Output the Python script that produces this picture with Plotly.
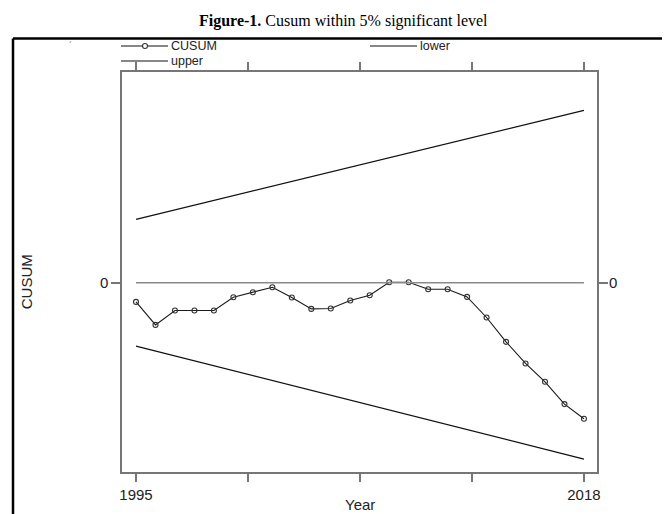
import plotly.graph_objects as go

# ---- data ----
years = list(range(1995, 2019))
cusum = [-1.92, -4.22, -2.78, -2.78, -2.78, -1.45, -0.95, -0.45, -1.48, -2.62,
         -2.58, -1.78, -1.25, 0.05, 0.05, -0.65, -0.65, -1.42, -3.48, -5.92,
         -8.08, -9.92, -12.15, -13.62]
bound_years = [1995, 2018]
upper = [6.35, 17.25]
lower = [-6.35, -17.65]
zero_years = [1995, 2018]
zero_vals = [0, 0]
x_tickvals = [1995, 2000.75, 2006.5, 2012.25, 2018]
x_ticktext = ["1995", "", "", "", "2018"]
y_tickvals = [0]
y_ticktext = ["0"]
legend_names = ["CUSUM", "lower", "upper"]

# ---- layout geometry (pixels) ----
W, H = 670, 514
L, R, T, B = 114, 589, 63.5, 464


def px(x):
    return (x - L) / (R - L)


def py(y):
    return (B - y) / (B - T)


FONT = "Liberation Sans, Arial, sans-serif"
AXC = "#767676"
YR = [-18.95, 21.1]
XR = [1994.28, 2018.67]

fig = go.Figure()
fig.add_trace(go.Scatter(x=zero_years, y=zero_vals, mode="lines", yaxis="y2",
                         line=dict(color="#8a8a8a", width=1.6),
                         showlegend=False, hoverinfo="skip"))
fig.add_trace(go.Scatter(x=years, y=cusum, mode="lines+markers",
                         name=legend_names[0], showlegend=False,
                         line=dict(color="#1a1a1a", width=1.1),
                         marker=dict(symbol="circle-open", size=5,
                                     color="#333333", line=dict(width=1.1))))
fig.add_trace(go.Scatter(x=bound_years, y=lower, mode="lines",
                         name=legend_names[1], showlegend=False,
                         line=dict(color="#111111", width=1.3)))
fig.add_trace(go.Scatter(x=bound_years, y=upper, mode="lines",
                         name=legend_names[2], showlegend=False,
                         line=dict(color="#111111", width=1.3)))

FR_T, FR_L = 30, 5
shapes = [
    dict(type="line", xref="paper", yref="paper", x0=px(FR_L), x1=px(667),
         y0=py(FR_T), y1=py(FR_T), line=dict(color="black", width=2.5)),
    dict(type="line", xref="paper", yref="paper", x0=px(FR_L), x1=px(FR_L),
         y0=py(FR_T), y1=py(520), line=dict(color="black", width=2.5)),
]

annotations = [
    dict(xref="paper", yref="paper", x=px(335), y=py(12), xanchor="center",
         yanchor="middle", showarrow=False,
         text="<b>Figure-1.</b> Cusum within 5% significant level",
         font=dict(family="Liberation Serif, Times New Roman, serif",
                   size=16, color="black")),
    dict(xref="paper", yref="paper", x=px(18), y=py(274), xanchor="center",
         yanchor="middle", showarrow=False, textangle=-90, text="CUSUM",
         font=dict(family=FONT, size=15, color="#222")),
    dict(xref="paper", yref="paper", x=px(352), y=py(497), xanchor="center",
         yanchor="middle", showarrow=False, text="Year",
         font=dict(family=FONT, size=15, color="#222")),
    dict(xref="paper", yref="paper", x=px(62), y=py(36), xanchor="center",
         yanchor="middle", showarrow=False, text="´", borderpad=0,
         font=dict(family=FONT, size=9, color="#555")),
]

# manual compact legend (Stata style)
legend_items = [(113, 37.5, True), (362, 37.5, False), (113, 52.5, False)]
for name, (lx, ly, has_marker) in zip(legend_names, legend_items):
    shapes.append(dict(type="line", xref="paper", yref="paper",
                       x0=px(lx), x1=px(lx + 47), y0=py(ly), y1=py(ly),
                       line=dict(color="#111111", width=1.1)))
    if has_marker:
        cx = lx + 24
        shapes.append(dict(type="circle", xref="paper", yref="paper",
                           x0=px(cx - 2.5), x1=px(cx + 2.5),
                           y0=py(ly + 2.5), y1=py(ly - 2.5),
                           fillcolor="white",
                           line=dict(color="#333333", width=1.1)))
    annotations.append(dict(xref="paper", yref="paper", x=px(lx + 49),
                            y=py(ly), xanchor="left", yanchor="middle",
                            showarrow=False, text=name, borderpad=0,
                            font=dict(family=FONT, size=12.5, color="#222")))

fig.update_layout(
    width=W, height=H,
    margin=dict(l=L, r=W - R, t=T, b=H - B, pad=0),
    paper_bgcolor="white", plot_bgcolor="white",
    font=dict(family=FONT, size=14, color="#222"),
    showlegend=False,
    xaxis=dict(range=XR, tickvals=x_tickvals, ticktext=x_ticktext,
               showgrid=False, zeroline=False, showline=True, linecolor=AXC,
               linewidth=1.5, mirror="allticks", ticks="outside", ticklen=8,
               tickwidth=1.5, tickcolor=AXC,
               tickfont=dict(family=FONT, size=15, color="#222")),
    yaxis=dict(range=YR, tickvals=y_tickvals, ticktext=y_ticktext,
               showgrid=False, zeroline=False, showline=True, linecolor=AXC,
               linewidth=1.5, mirror="allticks", ticks="outside", ticklen=9,
               tickwidth=1.5, tickcolor=AXC,
               tickfont=dict(family=FONT, size=15, color="#222")),
    yaxis2=dict(range=YR, overlaying="y", side="right", tickvals=y_tickvals,
                ticktext=y_ticktext, showgrid=False, zeroline=False,
                showline=False, ticks="outside", ticklen=8, tickwidth=1.5,
                tickcolor=AXC,
                tickfont=dict(family=FONT, size=15, color="#222")),
    shapes=shapes, annotations=annotations,
)

fig.write_html("out.html")
